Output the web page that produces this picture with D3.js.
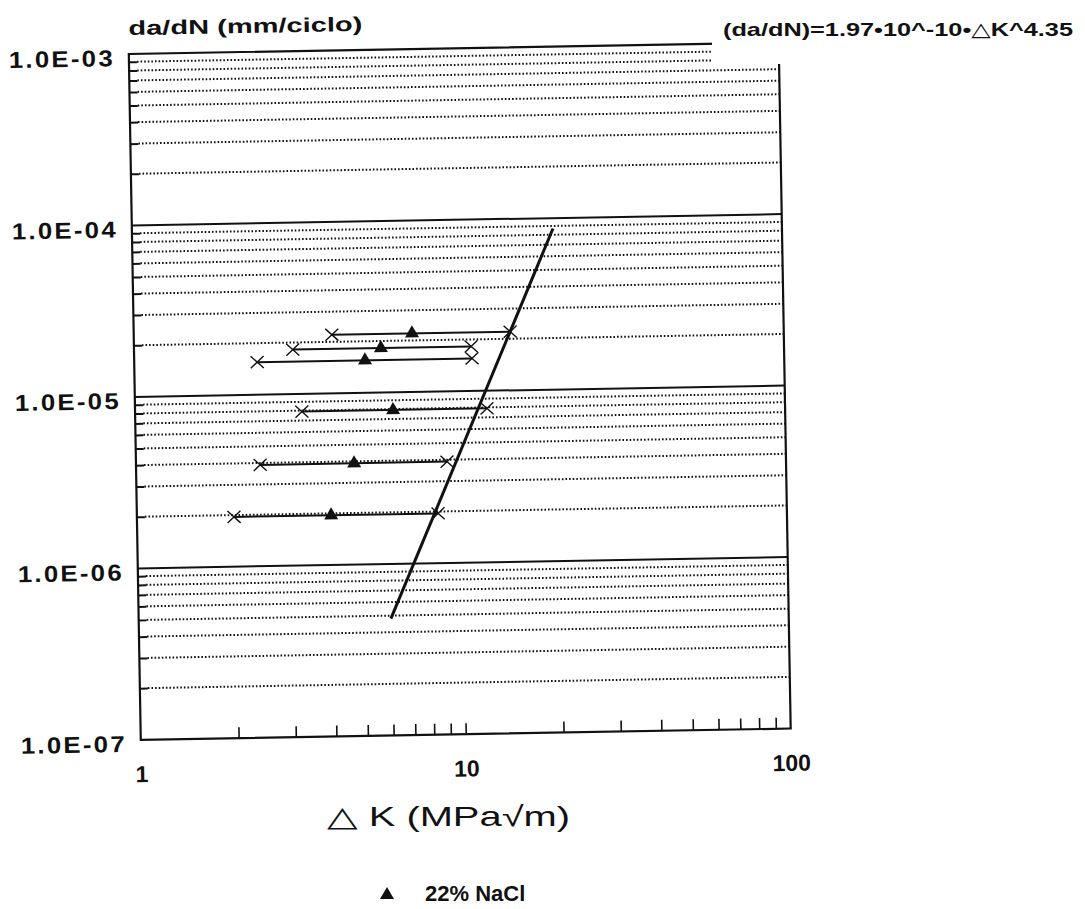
<!DOCTYPE html>
<html>
<head>
<meta charset="utf-8">
<script src="https://cdn.jsdelivr.net/npm/d3@7"></script>
<style>
  body { margin: 0; background: #fff; }
  text { font-family: 'Liberation Sans', Arial, 'DejaVu Sans', sans-serif; fill: #111; }
</style>
</head>
<body>
<script>
(function () {
  // tick labels
  var yTicks = [1e-7, 1e-6, 1e-5, 1e-4, 1e-3];
  var yTickLabels = ['1.0E-07', '1.0E-06', '1.0E-05', '1.0E-04', '1.0E-03'];
  var xTicks = [1, 10, 100];
  var xTickLabels = ['1', '10', '100'];

  // 22% NaCl tests: da/dN level, delta K range and mean
  var rate = [2.2e-5, 1.82e-5, 1.55e-5, 7.9e-6, 3.9e-6, 1.95e-6];
  var kMin = [4.07, 3.08, 2.39, 3.26, 2.41, 1.99];
  var kMax = [14.4, 10.9, 10.95, 12.1, 9.06, 8.45];
  var kMean = [7.18, 5.75, 5.13, 6.22, 4.69, 3.96];

  // fitted law end points
  var fitK = [5.97, 19.75];
  var fitRate = [4.8e-7, 8.7e-5];

  var rows = rate.map(function (r, i) {
    return {rate: r, lo: kMin[i], hi: kMax[i], mean: kMean[i]};
  });
  var fit = fitK.map(function (k, i) {
    return {k: k, v: fitRate[i]};
  });

  var minorY = [];
  [1e-7, 1e-6, 1e-5, 1e-4].forEach(function (d) {
    for (var m = 2; m <= 9; m++) minorY.push(d * m);
  });
  var minorX = [];
  [1, 10].forEach(function (d) {
    for (var m = 2; m <= 9; m++) minorX.push(d * m);
  });
  minorX.push(10);

  var svg = d3.select('body').append('svg')
    .attr('width', 1085)
    .attr('height', 909);
  svg.append('rect').attr('width', 1085).attr('height', 909).attr('fill', '#fff');

  var width = 650;
  var height = 686;
  // the scanned sheet is turned by about one degree
  var g = svg.append('g')
    .attr('transform', 'rotate(-1 459.75 391.25) translate(134.75,48.25)');

  var x = d3.scaleLog().domain([1, 100]).range([0, width]);
  var y = d3.scaleLog().domain([1e-7, 1e-3]).range([height, 0]);

  // dotted minor grid
  g.append('g')
      .attr('class', 'grid-minor')
      .selectAll('line')
      .data(minorY)
    .enter().append('line')
      .attr('x1', 8)
      .attr('x2', width)
      .attr('y1', function (d) { return y(d); })
      .attr('y2', function (d) { return y(d); })
      .attr('stroke', '#111')
      .attr('stroke-width', 2)
      .attr('stroke-dasharray', '1.6,2');

  // solid decade lines
  g.append('g')
      .attr('class', 'grid-major')
      .selectAll('line')
      .data([1e-6, 1e-5, 1e-4])
    .enter().append('line')
      .attr('x1', 0)
      .attr('x2', width)
      .attr('y1', function (d) { return y(d); })
      .attr('y2', function (d) { return y(d); })
      .attr('stroke', '#111')
      .attr('stroke-width', 2);

  // inner minor ticks
  g.append('g')
      .attr('class', 'axis axis--ym')
      .call(d3.axisLeft(y).tickValues(minorY).tickSize(-8).tickFormat(''))
      .call(function (s) { s.select('.domain').remove(); })
      .selectAll('line').attr('stroke', '#111').attr('stroke-width', 2);
  g.append('g')
      .attr('class', 'axis axis--xm')
      .attr('transform', 'translate(0,' + height + ')')
      .call(d3.axisBottom(x).tickValues(minorX).tickSize(-11).tickFormat(''))
      .call(function (s) { s.select('.domain').remove(); })
      .selectAll('line').attr('stroke', '#111').attr('stroke-width', 1.6);

  // frame
  g.append('rect')
    .attr('width', width)
    .attr('height', height)
    .attr('fill', 'none')
    .attr('stroke', '#111')
    .attr('stroke-width', 2.2);

  // tick labels
  var axisY = g.append('g')
      .attr('class', 'axis axis--y')
      .call(d3.axisLeft(y).tickValues(yTicks).tickSize(0).tickPadding(14)
        .tickFormat(function (d, i) { return yTickLabels[i]; }));
  axisY.select('.domain').remove();
  axisY.selectAll('text')
    .attr('y', 4)
    .attr('font-size', '23px')
    .attr('font-family', null)
    .attr('font-weight', 'bold')
    .style('letter-spacing', '2px')
    .attr('textLength', 106)
    .attr('lengthAdjust', 'spacingAndGlyphs');

  var axisX = g.append('g')
      .attr('class', 'axis axis--x')
      .attr('transform', 'translate(0,' + height + ')')
      .call(d3.axisBottom(x).tickValues(xTicks).tickSize(0).tickPadding(26)
        .tickFormat(function (d, i) { return xTickLabels[i]; }));
  axisX.select('.domain').remove();
  axisX.selectAll('text')
    .attr('font-size', '23px')
    .attr('font-weight', 'bold')
    .attr('font-family', null);

  g.append('text')
    .attr('x', 0)
    .attr('y', -19)
    .attr('font-size', '20px')
    .attr('font-weight', 'bold')
    .attr('textLength', 234)
    .attr('lengthAdjust', 'spacingAndGlyphs')
    .text('da/dN (mm/ciclo)');

  // data bars
  var bars = g.append('g').attr('class', 'data');
  bars.selectAll('.bar')
      .data(rows)
    .enter().append('line')
      .attr('class', 'bar')
      .attr('x1', function (d) { return x(d.lo); })
      .attr('x2', function (d) { return x(d.hi); })
      .attr('y1', function (d) { return y(d.rate); })
      .attr('y2', function (d) { return y(d.rate); })
      .attr('stroke', '#111')
      .attr('stroke-width', 2);

  var ends = [];
  rows.forEach(function (d) {
    ends.push({k: d.lo, rate: d.rate});
    ends.push({k: d.hi, rate: d.rate});
  });
  bars.selectAll('.cross')
      .data(ends)
    .enter().append('path')
      .attr('class', 'cross')
      .attr('d', 'M-6.5,-6L6.5,6M-6.5,6L6.5,-6')
      .attr('transform', function (d) {
        return 'translate(' + x(d.k) + ',' + y(d.rate) + ')';
      })
      .attr('stroke', '#111')
      .attr('stroke-width', 1.4)
      .attr('fill', 'none');

  bars.selectAll('.tri')
      .data(rows)
    .enter().append('path')
      .attr('class', 'tri')
      .attr('d', d3.symbol(d3.symbolTriangle, 85))
      .attr('transform', function (d) {
        return 'translate(' + x(d.mean) + ',' + y(d.rate) + ')';
      })
      .attr('fill', '#111');

  // fitted line
  var line = d3.line()
    .x(function (d) { return x(d.k); })
    .y(function (d) { return y(d.v); });
  g.append('path')
    .attr('d', line(fit))
    .attr('stroke', '#111')
    .attr('stroke-width', 3)
    .attr('fill', 'none');

  // equation label sits on a white box over the top right corner
  svg.append('rect')
    .attr('x', 712)
    .attr('y', 0)
    .attr('width', 373)
    .attr('height', 64)
    .attr('fill', '#fff');
  svg.append('text')
    .attr('x', 723)
    .attr('y', 36)
    .attr('font-size', '19px')
    .attr('font-weight', 'bold')
    .attr('textLength', 350)
    .attr('lengthAdjust', 'spacingAndGlyphs')
    .text('(da/dN)=1.97\u202210^-10\u2022\u25B3K^4.35');

  // x title
  svg.append('text')
    .attr('x', 327)
    .attr('y', 826)
    .attr('font-size', '28px')
    .attr('textLength', 243)
    .attr('lengthAdjust', 'spacingAndGlyphs')
    .text('\u25B3 K (MPa\u221Am)');

  // legend
  svg.append('path')
    .attr('d', d3.symbol(d3.symbolTriangle, 85))
    .attr('transform', 'translate(387,895)')
    .attr('fill', '#111');
  svg.append('text')
    .attr('x', 425)
    .attr('y', 901)
    .attr('font-size', '22px')
    .attr('font-weight', 'bold')
    .text('22% NaCl');
})();
</script>
</body>
</html>
